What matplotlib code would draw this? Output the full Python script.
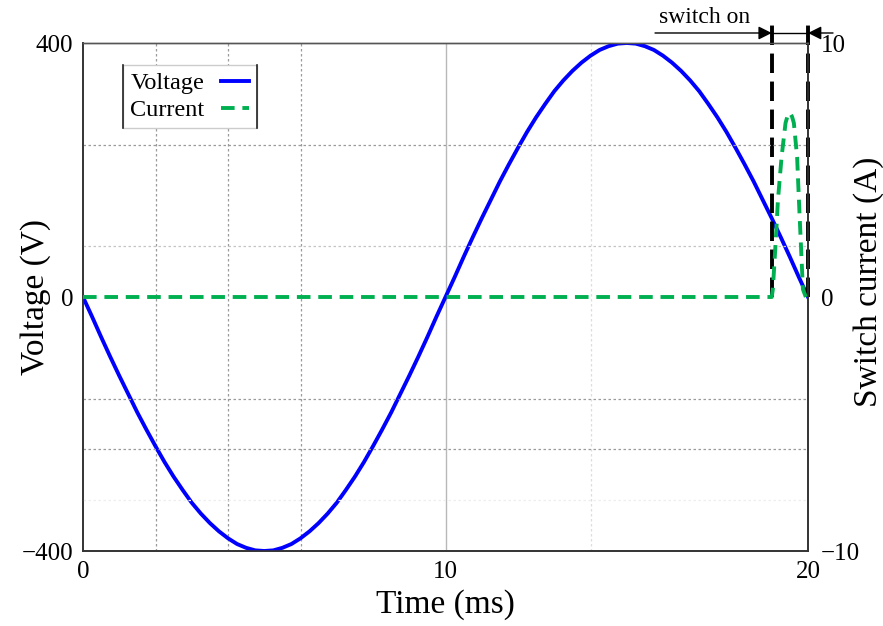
import matplotlib
matplotlib.use("Agg")
import matplotlib.pyplot as plt
from matplotlib.lines import Line2D

plt.rcParams['font.family'] = ['Liberation Serif', 'DejaVu Serif']

# Supply voltage, sampled every 0.25 ms over one 20 ms cycle
time_v = [i * 0.25 for i in range(81)]
voltage = [0, -31, -63, -94, -124, -153, -182, -209, -235, -260,
           -283, -304, -324, -341, -356, -369, -380, -389, -395, -399,
           -400, -399, -395, -389, -380, -369, -356, -341, -324, -304,
           -283, -260, -235, -209, -182, -153, -124, -94, -63, -31,
           0, 31, 63, 94, 124, 153, 182, 209, 235, 260,
           283, 304, 324, 341, 356, 369, 380, 389, 395, 399,
           400, 399, 395, 389, 380, 369, 356, 341, 324, 304,
           283, 260, 235, 209, 182, 153, 124, 94, 63, 31, 0]

# Switch current pulse
time_i = [0, 19.0, 19.03, 19.11, 19.17, 19.27, 19.38, 19.44, 19.5,
          19.56, 19.61, 19.7, 19.75, 19.8, 19.86, 19.94]
current = [0, 0, 0.3, 2.2, 3.8, 5.5, 6.85, 7.15, 7.25,
           7.1, 6.85, 5.5, 3.8, 2.2, 0.3, 0]

switch_times = [19, 20]
x_ticks = [0, 10, 20]
v_ticks = [-400, 0, 400]
i_ticks = [-10, 0, 10]

# grid lines (x in ms, y in A on the current axis)
grid_x_dotted = [2, 4, 6]
grid_x_solid = [10]
grid_x_faint = [14]
grid_y_dotted = [6, -4, -6]
grid_y_light = [2]
grid_y_faint = [-8]

W, H = 883, 626
fig = plt.figure(figsize=(W / 100, H / 100), dpi=100)
ax = fig.add_axes([83 / W, 1 - 551 / H, 725 / W, 508 / H])
ax2 = ax.twinx()

for x in grid_x_dotted:
    ax.axvline(x, color='#9a9a9a', lw=0.9, ls=(0, (2, 2)), zorder=0)
for x in grid_x_solid:
    ax.axvline(x, color='#b8b8b8', lw=1.0, zorder=0)
for x in grid_x_faint:
    ax.axvline(x, color='#dddddd', lw=0.9, ls=(0, (2, 2)), zorder=0)
for y in grid_y_dotted:
    ax2.axhline(y, color='#9a9a9a', lw=0.9, ls=(0, (2, 2)), zorder=0)
for y in grid_y_light:
    ax2.axhline(y, color='#c4c4c4', lw=0.9, ls=(0, (2, 2)), zorder=0)
for y in grid_y_faint:
    ax2.axhline(y, color='#eeeeee', lw=0.9, ls=(0, (2, 2)), zorder=0)

ax.plot(time_v, voltage, color='#0000ff', lw=2.8, zorder=3)
ax2.plot(time_i, current, color='#00b050', lw=2.8, ls=(0, (3.5, 2)), zorder=3)

# switch-on markers
ax.vlines(switch_times, 0.5, 1.035, transform=ax.get_xaxis_transform(),
          colors='black', lw=2.8, linestyles=(0, (5, 2.2)), clip_on=False, zorder=4)

ay = 1.0197
ax.annotate('', xy=(switch_times[0], ay), xytext=(15.78, ay),
            xycoords=ax.get_xaxis_transform(), textcoords=ax.get_xaxis_transform(),
            arrowprops=dict(arrowstyle='-|>', color='black', lw=1.0,
                            mutation_scale=20, shrinkA=0, shrinkB=0))
ax.annotate('', xy=(switch_times[1], ay), xytext=(20.69, ay),
            xycoords=ax.get_xaxis_transform(), textcoords=ax.get_xaxis_transform(),
            arrowprops=dict(arrowstyle='-|>', color='black', lw=1.0,
                            mutation_scale=20, shrinkA=0, shrinkB=0),
            annotation_clip=False)
ax.plot(switch_times, [ay, ay], color='black', lw=1.0,
        transform=ax.get_xaxis_transform(), clip_on=False)
ax.text(17.15, 1.03, 'switch on', transform=ax.get_xaxis_transform(),
        ha='center', va='bottom', fontsize=17)

ax.set_xlim(0, 20)
ax.set_ylim(-400, 400)
ax2.set_ylim(-10, 10)
ax.set_xticks(x_ticks)
ax.set_yticks(v_ticks)
ax2.set_yticks(i_ticks)
ax.set_yticklabels(['\u2212400', '0', '400'])
ax2.set_yticklabels(['\u221210', '0', '10'])
ax.tick_params(length=0, labelsize=18, pad=7)
ax2.tick_params(length=0, labelsize=18, pad=9)

ax.set_xlabel('Time (ms)', fontsize=24)
ax.set_ylabel('Voltage (V)', fontsize=24)
ax2.set_ylabel('Switch current (A)', fontsize=24)
ax.xaxis.set_label_coords(0.5, -0.106)
ax.yaxis.set_label_coords(-0.066, 0.5)
ax2.yaxis.set_label_coords(1.083, 0.53)
ax.xaxis.label.set_va('center')
ax.yaxis.label.set_va('center')
ax2.yaxis.label.set_va('center')

for a in (ax, ax2):
    for s in a.spines.values():
        s.set_linewidth(1.2)
        s.set_color('#333333')
    a.spines['top'].set_color('#555555')
    a.spines['top'].set_linewidth(1.0)

handles = [Line2D([], [], color='#0000ff', lw=2.8),
           Line2D([], [], color='#00b050', lw=2.8, ls=(0, (3.5, 2)))]
leg = ax2.legend(handles, ['Voltage', 'Current'], loc='upper left',
                 bbox_to_anchor=(0.055, 0.957), borderaxespad=0,
                 markerfirst=False, fontsize=17.5, handlelength=1.15,
                 handletextpad=0.7, borderpad=0.3, labelspacing=0.2,
                 frameon=True, fancybox=False, edgecolor='#cccccc',
                 framealpha=1)
leg.get_frame().set_linewidth(1.0)
leg.set_zorder(10)

fig.canvas.draw()
bb = leg.get_window_extent().transformed(fig.transFigure.inverted())
for xe in (bb.x0, bb.x1):
    fig.add_artist(Line2D([xe, xe], [bb.y0, bb.y1], color='#222222', lw=1.2,
                          transform=fig.transFigure, zorder=11))

fig.savefig('out.png', dpi=100)
